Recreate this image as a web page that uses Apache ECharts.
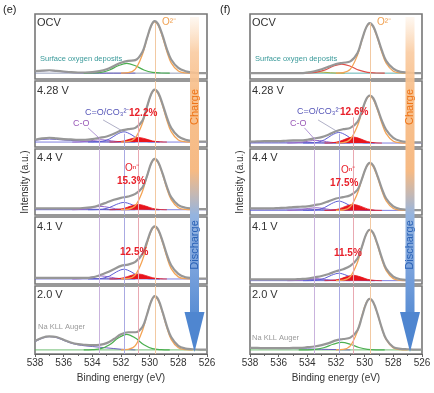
<!DOCTYPE html>
<html><head><meta charset="utf-8">
<script src="https://cdn.jsdelivr.net/npm/echarts/dist/echarts.min.js"></script>
<style>html,body{margin:0;padding:0;background:#fff}#c{width:434px;height:393px}</style>
</head><body><div id="c"></div>
<script>
// ---------- energies (eV) ----------
const E  = [538, 537.5, 537, 536.5, 536, 535.5, 535, 534.5, 534, 533.5, 533, 532.5, 532, 531.5, 531, 530.5, 530.2, 529.9, 529.65, 529.4, 529.1, 528.8, 528.5, 528, 527.5, 527, 526.5, 526];
const EL = [538, 537.5, 537, 536.5, 536, 535.5, 535, 534.5, 534, 533.5, 533, 532.5, 532, 531.5, 531];
const EO = [532, 531.5, 531, 530.5, 530.2, 529.9, 529.65, 529.4, 529.1, 528.8, 528.5, 528, 527.5, 527];
const ER = [532.8, 532.3, 531.8, 531.3, 530.8, 530.3, 529.8, 529.3, 528.8];
const EB = [534.3, 533.8, 533.3, 532.8, 532.3, 531.8, 531.3, 530.8, 530.3, 529.8, 529.3];
const EP = [535.4, 534.9, 534.4, 533.9, 533.4, 532.9, 532.4, 531.9, 531.4];
const EG = [534.6, 534, 533.4, 532.8, 532.2, 531.6, 531, 530.4, 529.8, 529.2, 528.6];
const BX = [538, 526];
const refE = [533.5, 531.8, 530.8, 529.6];
const xTicks = [538, 536, 534, 532, 530, 528, 526];

// ---------- panel (e) ----------
const e_base = [0.09, 0.075, 0.08, 0.075, 0.06];
const e_ocv_env = [0.12, 0.13, 0.135, 0.125, 0.115, 0.105, 0.1, 0.1, 0.105, 0.12, 0.15, 0.2, 0.25, 0.28, 0.29, 0.42, 0.62, 0.82, 0.89, 0.84, 0.67, 0.46, 0.3, 0.17, 0.12, 0.1, 0.09, 0.09];
const e_428_env = [0.11, 0.13, 0.14, 0.13, 0.12, 0.115, 0.11, 0.11, 0.12, 0.14, 0.16, 0.2, 0.25, 0.27, 0.29, 0.4, 0.6, 0.8, 0.87, 0.82, 0.65, 0.45, 0.29, 0.16, 0.11, 0.09, 0.08, 0.08];
const e_44_env  = [0.1, 0.1, 0.1, 0.1, 0.1, 0.1, 0.1, 0.11, 0.12, 0.15, 0.19, 0.23, 0.26, 0.28, 0.32, 0.42, 0.58, 0.78, 0.85, 0.8, 0.63, 0.43, 0.27, 0.15, 0.11, 0.1, 0.09, 0.09];
const e_41_env  = [0.09, 0.09, 0.09, 0.09, 0.09, 0.09, 0.09, 0.09, 0.1, 0.13, 0.17, 0.22, 0.27, 0.29, 0.33, 0.45, 0.62, 0.8, 0.86, 0.81, 0.64, 0.44, 0.28, 0.15, 0.1, 0.09, 0.08, 0.08];
const e_20_env  = [0.19, 0.24, 0.26, 0.25, 0.21, 0.17, 0.145, 0.135, 0.13, 0.135, 0.16, 0.22, 0.29, 0.32, 0.32, 0.4, 0.57, 0.77, 0.85, 0.8, 0.62, 0.41, 0.25, 0.12, 0.08, 0.07, 0.065, 0.065];

const e_ocv_left = [0.115, 0.125, 0.13, 0.12, 0.11, 0.1, 0.095, 0.092, 0.09, 0.09, 0.09, 0.09, 0.09, 0.09, 0.09];
const e_428_left = [0.1, 0.115, 0.12, 0.115, 0.105, 0.1, 0.095, 0.09, 0.085, 0.08, 0.078, 0.076, 0.075, 0.075, 0.075];
const e_44_left  = [0.09, 0.09, 0.09, 0.09, 0.09, 0.09, 0.09, 0.09, 0.088, 0.085, 0.082, 0.08, 0.08, 0.08, 0.08];
const e_41_left  = [0.085, 0.085, 0.085, 0.085, 0.085, 0.085, 0.085, 0.085, 0.083, 0.08, 0.078, 0.076, 0.075, 0.075, 0.075];
const e_20_aug   = [0.18, 0.23, 0.255, 0.24, 0.2, 0.16, 0.135, 0.12, 0.11, 0.1, 0.09, 0.08, 0.07, 0.065, 0.06];

const e_ocv_O2 = [0.09, 0.097, 0.153, 0.38, 0.61, 0.81, 0.88, 0.825, 0.643, 0.422, 0.248, 0.122, 0.094, 0.09];
const e_428_O2 = [0.075, 0.082, 0.138, 0.363, 0.591, 0.795, 0.86, 0.805, 0.625, 0.405, 0.232, 0.106, 0.079, 0.075];
const e_44_O2  = [0.08, 0.087, 0.141, 0.359, 0.579, 0.777, 0.84, 0.787, 0.612, 0.399, 0.232, 0.11, 0.084, 0.08];
const e_41_O2  = [0.075, 0.082, 0.137, 0.359, 0.584, 0.786, 0.85, 0.796, 0.618, 0.401, 0.23, 0.106, 0.079, 0.075];
const e_20_O2  = [0.06, 0.067, 0.122, 0.346, 0.572, 0.775, 0.84, 0.785, 0.606, 0.388, 0.216, 0.091, 0.064, 0.06];

const e_428_On = [0.075, 0.078, 0.092, 0.124, 0.145, 0.124, 0.092, 0.078, 0.075];
const e_44_On  = [0.08, 0.084, 0.1, 0.137, 0.16, 0.137, 0.1, 0.084, 0.08];
const e_41_On  = [0.075, 0.078, 0.094, 0.128, 0.15, 0.128, 0.094, 0.078, 0.075];

const e_428_CO3 = [0.075, 0.076, 0.086, 0.122, 0.19, 0.23, 0.19, 0.122, 0.086, 0.076, 0.075];
const e_44_CO3  = [0.08, 0.081, 0.088, 0.114, 0.162, 0.19, 0.162, 0.114, 0.088, 0.081, 0.08];
const e_41_CO3  = [0.075, 0.076, 0.085, 0.119, 0.183, 0.22, 0.183, 0.119, 0.085, 0.076, 0.075];

const e_428_CO = [0.075, 0.077, 0.086, 0.101, 0.11, 0.101, 0.086, 0.077, 0.075];
const e_44_CO  = [0.08, 0.084, 0.095, 0.117, 0.13, 0.117, 0.095, 0.084, 0.08];
const e_41_CO  = [0.075, 0.078, 0.089, 0.108, 0.12, 0.108, 0.089, 0.078, 0.075];

const e_ocv_dep = [0.09, 0.092, 0.102, 0.139, 0.203, 0.24, 0.203, 0.139, 0.102, 0.092, 0.09];
const e_20_dep  = [0.06, 0.063, 0.078, 0.135, 0.234, 0.29, 0.234, 0.135, 0.078, 0.063, 0.06];

// ---------- panel (f) ----------
const f_base = [0.09, 0.06, 0.07, 0.05, 0.06];
const f_ocv_env = [0.09, 0.09, 0.09, 0.09, 0.09, 0.09, 0.09, 0.09, 0.1, 0.12, 0.15, 0.19, 0.23, 0.25, 0.27, 0.4, 0.6, 0.79, 0.86, 0.81, 0.64, 0.44, 0.28, 0.16, 0.11, 0.1, 0.09, 0.09];
const f_428_env = [0.08, 0.085, 0.09, 0.09, 0.09, 0.095, 0.1, 0.1, 0.11, 0.13, 0.15, 0.19, 0.24, 0.27, 0.29, 0.38, 0.54, 0.72, 0.78, 0.74, 0.58, 0.4, 0.26, 0.14, 0.09, 0.075, 0.07, 0.07];
const f_44_env  = [0.1, 0.1, 0.1, 0.1, 0.105, 0.11, 0.12, 0.125, 0.13, 0.15, 0.17, 0.21, 0.25, 0.27, 0.3, 0.38, 0.54, 0.72, 0.79, 0.75, 0.59, 0.4, 0.25, 0.13, 0.09, 0.08, 0.075, 0.075];
const f_41_env  = [0.07, 0.07, 0.07, 0.07, 0.07, 0.07, 0.07, 0.075, 0.08, 0.1, 0.12, 0.15, 0.19, 0.22, 0.27, 0.38, 0.55, 0.74, 0.81, 0.76, 0.59, 0.39, 0.23, 0.11, 0.07, 0.06, 0.055, 0.055];
const f_20_env  = [0.09, 0.09, 0.085, 0.085, 0.085, 0.085, 0.09, 0.09, 0.1, 0.11, 0.13, 0.16, 0.2, 0.22, 0.24, 0.35, 0.54, 0.74, 0.81, 0.76, 0.59, 0.38, 0.22, 0.1, 0.075, 0.07, 0.065, 0.065];

const f_428_left = [0.07, 0.072, 0.075, 0.075, 0.075, 0.075, 0.075, 0.073, 0.07, 0.066, 0.063, 0.061, 0.06, 0.06, 0.06];
const f_44_left  = [0.09, 0.09, 0.09, 0.09, 0.09, 0.09, 0.09, 0.09, 0.088, 0.085, 0.08, 0.075, 0.072, 0.07, 0.07];
const f_41_left  = [0.065, 0.065, 0.065, 0.065, 0.065, 0.065, 0.065, 0.065, 0.065, 0.065, 0.062, 0.058, 0.055, 0.052, 0.05];
const f_20_aug   = [0.085, 0.085, 0.085, 0.082, 0.08, 0.08, 0.08, 0.078, 0.075, 0.072, 0.07, 0.067, 0.065, 0.062, 0.06];

const f_ocv_O2 = [0.09, 0.097, 0.151, 0.369, 0.589, 0.787, 0.85, 0.797, 0.622, 0.409, 0.242, 0.12, 0.094, 0.09];
const f_428_O2 = [0.06, 0.066, 0.117, 0.321, 0.526, 0.711, 0.77, 0.72, 0.557, 0.358, 0.202, 0.088, 0.064, 0.06];
const f_44_O2  = [0.07, 0.076, 0.127, 0.331, 0.536, 0.721, 0.78, 0.73, 0.567, 0.368, 0.212, 0.098, 0.074, 0.07];
const f_41_O2  = [0.05, 0.057, 0.11, 0.325, 0.543, 0.738, 0.8, 0.748, 0.575, 0.365, 0.2, 0.08, 0.054, 0.05];
const f_20_O2  = [0.06, 0.067, 0.12, 0.335, 0.553, 0.748, 0.81, 0.758, 0.585, 0.375, 0.21, 0.09, 0.064, 0.06];

const f_428_On = [0.06, 0.064, 0.082, 0.124, 0.15, 0.124, 0.082, 0.064, 0.06];
const f_44_On  = [0.07, 0.074, 0.092, 0.134, 0.16, 0.134, 0.092, 0.074, 0.07];
const f_41_On  = [0.05, 0.054, 0.07, 0.107, 0.13, 0.107, 0.07, 0.054, 0.05];

const f_428_CO3 = [0.06, 0.061, 0.071, 0.109, 0.179, 0.22, 0.179, 0.109, 0.071, 0.061, 0.06];
const f_44_CO3  = [0.07, 0.071, 0.08, 0.113, 0.174, 0.21, 0.174, 0.113, 0.08, 0.071, 0.07];
const f_41_CO3  = [0.05, 0.051, 0.058, 0.084, 0.132, 0.16, 0.132, 0.084, 0.058, 0.051, 0.05];

const f_428_CO = [0.06, 0.063, 0.072, 0.09, 0.1, 0.09, 0.072, 0.063, 0.06];
const f_44_CO  = [0.07, 0.073, 0.082, 0.1, 0.11, 0.1, 0.082, 0.073, 0.07];
const f_41_CO  = [0.05, 0.052, 0.059, 0.072, 0.08, 0.072, 0.059, 0.052, 0.05];

const f_ocv_dep   = [0.09, 0.092, 0.101, 0.136, 0.196, 0.23, 0.196, 0.136, 0.101, 0.092, 0.09];
const f_ocv_minor = [0.09, 0.091, 0.096, 0.105, 0.11, 0.105, 0.096, 0.091, 0.09];
const f_20_dep    = [0.06, 0.061, 0.069, 0.096, 0.143, 0.17, 0.143, 0.096, 0.069, 0.061, 0.06];

// connector lines in the 4.28 V panels: [x1, y1, x2, y2]
const e_conn = [[533.25, 0.41, 531.8, 0.23], [534.3, 0.29, 533.5, 0.13]];
const f_conn = [[533.25, 0.41, 531.8, 0.22], [534.2, 0.29, 533.5, 0.12]];

// ---------- build ----------
const FONT = '"Liberation Sans", Arial, sans-serif';
const C = {grey:'#979797', orange:'#f4a455', red:'#e8141c', blue:'#5c5cd6', purple:'#9a68c8', green:'#4caf50', left:'#6a60c0', teal:'#3aa0a0'};
const REFC = ['#c9b3dd', '#aaaae2', '#e9a9b2', '#f2c9a2'];
const tops = [14, 81, 149, 217, 286];
const heights = [65, 66, 66, 67, 68];
const zip = (xs, ys) => xs.map((x, i) => [x, ys[i]]);

const sets = [
  {left: 35, base: e_base, conn: e_conn, panels: [
    {env:e_ocv_env, left:e_ocv_left, O2:e_ocv_O2, dep:e_ocv_dep, depC:C.green, baseC:'#7a86a8'},
    {env:e_428_env, left:e_428_left, O2:e_428_O2, On:e_428_On, CO3:e_428_CO3, CO:e_428_CO, baseC:C.blue},
    {env:e_44_env, left:e_44_left, O2:e_44_O2, On:e_44_On, CO3:e_44_CO3, CO:e_44_CO, baseC:C.blue},
    {env:e_41_env, left:e_41_left, O2:e_41_O2, On:e_41_On, CO3:e_41_CO3, CO:e_41_CO, baseC:C.blue},
    {env:e_20_env, left:e_20_aug, O2:e_20_O2, dep:e_20_dep, depC:C.green, baseC:C.green}
  ]},
  {left: 250, base: f_base, conn: f_conn, panels: [
    {env:f_ocv_env, O2:f_ocv_O2, dep:f_ocv_dep, depC:'#e0504a', minor:f_ocv_minor, baseC:C.teal},
    {env:f_428_env, left:f_428_left, O2:f_428_O2, On:f_428_On, CO3:f_428_CO3, CO:f_428_CO, baseC:C.blue},
    {env:f_44_env, left:f_44_left, O2:f_44_O2, On:f_44_On, CO3:f_44_CO3, CO:f_44_CO, baseC:C.blue},
    {env:f_41_env, left:f_41_left, O2:f_41_O2, On:f_41_On, CO3:f_41_CO3, CO:f_41_CO, baseC:C.blue},
    {env:f_20_env, left:f_20_aug, O2:f_20_O2, dep:f_20_dep, depC:C.green, baseC:C.green}
  ]}
];

const grid = [], xAxis = [], yAxis = [], series = [];
function ln(gi, xs, ys, color, width, extra) {
  return Object.assign({type:'line', xAxisIndex:gi, yAxisIndex:gi, data:zip(xs, ys), smooth:0.35,
    symbol:'none', silent:true, animation:false, lineStyle:{color:color, width:width}}, extra || {});
}
function refSeg(x, y0, y1, color, w) {
  return [{coord:[x, y0], lineStyle:{color:color, width:w || 1, type:'solid'}}, {coord:[x, y1]}];
}

sets.forEach((s, si) => {
  s.panels.forEach((p, pi) => {
    const gi = grid.length;
    const bottom = pi === 4;
    grid.push({left:s.left, top:tops[pi], width:172, height:heights[pi], show:true,
      borderColor:'#777', borderWidth:1.6, backgroundColor:'rgba(0,0,0,0)'});
    xAxis.push({gridIndex:gi, type:'value', min:526, max:538, interval:2, inverse:true,
      axisLine:{show:bottom, onZero:false, lineStyle:{color:'#666', width:1}},
      axisTick:{show:bottom, length:3, lineStyle:{color:'#666'}},
      minorTick:{show:bottom, splitNumber:2, length:2, lineStyle:{color:'#666'}},
      axisLabel:{show:bottom, fontSize:10, color:'#333', margin:4, fontFamily:FONT,
        formatter: v => xTicks.includes(v) ? String(v) : ''},
      splitLine:{show:false},
      name: bottom ? 'Binding energy (eV)' : '', nameLocation:'middle', nameGap:19,
      nameTextStyle:{fontSize:10, color:'#333', fontFamily:FONT}});
    yAxis.push({gridIndex:gi, type:'value', min:0, max:1,
      axisLine:{show:false}, axisTick:{show:false}, axisLabel:{show:false}, splitLine:{show:false},
      name: pi === 2 ? 'Intensity (a.u.)' : '', nameLocation:'middle', nameGap:5, nameRotate:90,
      nameTextStyle:{fontSize:10, color:'#333', fontFamily:FONT}});

    const b = s.base[pi];
    let ml = [];
    if (pi === 0) ml.push(refSeg(refE[3], 0, 0.86, REFC[3]));
    else if (pi === 1) {
      ml.push(refSeg(refE[0], 0, 0.14, REFC[0]));
      ml.push(refSeg(refE[1], 0, 0.2, REFC[1]));
      ml.push(refSeg(refE[2], 0, 0.45, REFC[2]));
      ml.push(refSeg(refE[3], 0, 1, REFC[3]));
      ml.push([{coord:[s.conn[0][0], s.conn[0][1]], lineStyle:{color:'#9a9ab8', width:0.8, type:'solid'}}, {coord:[s.conn[0][2], s.conn[0][3]]}]);
      ml.push([{coord:[s.conn[1][0], s.conn[1][1]], lineStyle:{color:'#a07ccc', width:0.8, type:'solid'}}, {coord:[s.conn[1][2], s.conn[1][3]]}]);
    } else {
      refE.forEach((x, k) => ml.push(refSeg(x, 0, 1, REFC[k])));
    }
    series.push(ln(gi, BX, [b, b], p.baseC, 0.8, {smooth:false, z:1,
      markLine:{silent:true, symbol:'none', label:{show:false}, animation:false, data:ml}}));
    if (p.left) series.push(ln(gi, EL, p.left, C.left, 1, {z:2}));
    if (p.minor) series.push(ln(gi, EP, p.minor, '#a8b040', 1, {z:2}));
    if (p.dep) series.push(ln(gi, EG, p.dep, p.depC, 1.2, {z:2}));
    if (p.CO) series.push(ln(gi, EP, p.CO, C.purple, 1, {z:2}));
    if (p.CO3) series.push(ln(gi, EB, p.CO3, C.blue, 1, {z:2}));
    if (p.On) series.push(ln(gi, ER, p.On, C.red, 0.8, {z:3, areaStyle:{color:C.red, opacity:1, origin:b}}));
    series.push(ln(gi, EO, p.O2, C.orange, 1.3, {z:3}));
    series.push(ln(gi, E, p.env, C.grey, 2.2, {z:4}));
  });
});

// ---------- annotations ----------
const STY = {
  tag:{fontSize:11, fill:'#222'}, panel:{fontSize:11, fill:'#333'},
  teal:{fontSize:7.5, fill:'#3a9a9a'}, orange:{fontSize:10, fill:'#f0a050'},
  blue:{fontSize:9, fill:'#5656b8'}, pct:{fontSize:10, fill:'#e8202a', fontWeight:'bold'},
  purple:{fontSize:9, fill:'#9a5ab8'}, red:{fontSize:10, fill:'#e8202a'}, grey:{fontSize:7.5, fill:'#9a9a9a'}
};
const labelsE = [
  ['(e)', 3, 10, 'tag'], ['OCV', 37, 23, 'panel'], ['4.28 V', 37, 91, 'panel'], ['4.4 V', 37, 158, 'panel'],
  ['4.1 V', 37, 227, 'panel'], ['2.0 V', 37, 295, 'panel'], ['Surface oxygen deposits', 40, 59, 'teal'],
  ['O²⁻', 162, 22, 'orange'], ['C=O/CO₃²⁻', 85, 113, 'blue'], ['12.2%', 129, 113, 'pct'], ['C-O', 73, 124, 'purple'],
  ['Oⁿ⁻', 125, 168, 'red'], ['15.3%', 117, 181, 'pct'], ['12.5%', 120, 252, 'pct'], ['Na KLL Auger', 38, 327, 'grey']
];
const labelsF = [
  ['(f)', 220, 10, 'tag'], ['OCV', 252, 23, 'panel'], ['4.28 V', 252, 91, 'panel'], ['4.4 V', 252, 158, 'panel'],
  ['4.1 V', 252, 227, 'panel'], ['2.0 V', 252, 295, 'panel'], ['Surface oxygen deposits', 255, 59, 'teal'],
  ['O²⁻', 377, 22, 'orange'], ['C=O/CO₃²⁻', 297, 112, 'blue'], ['12.6%', 340, 112, 'pct'], ['C-O', 290, 124, 'purple'],
  ['Oⁿ⁻', 341, 170, 'red'], ['17.5%', 330, 183, 'pct'], ['11.5%', 334, 253, 'pct'], ['Na KLL Auger', 252, 338, 'grey']
];
const graphic = [];
labelsE.concat(labelsF).forEach(([t, x, y, k]) => {
  graphic.push({type:'text', x:x, y:y, z:50, silent:true,
    style:Object.assign({text:t, fontFamily:FONT, align:'left', verticalAlign:'middle'}, STY[k])});
});
// charge / discharge arrows
[194.5, 410].forEach((cx) => {
  graphic.push({type:'rect', z:20, silent:true, shape:{x:cx - 4.5, y:17, width:9, height:296},
    style:{fill:new echarts.graphic.LinearGradient(0, 0, 0, 1, [
      {offset:0, color:'rgba(250,205,160,0.15)'}, {offset:0.12, color:'rgba(249,196,148,0.8)'},
      {offset:0.25, color:'#f8c290'}, {offset:0.52, color:'#f6ba84'}, {offset:0.6, color:'#c4b8b4'},
      {offset:0.67, color:'#94b4e0'}, {offset:0.85, color:'#7aa2dc'}, {offset:1, color:'#5a8ed4'}])}});
  graphic.push({type:'polygon', z:20, silent:true, shape:{points:[[cx - 10, 312], [cx + 10, 312], [cx, 352]]},
    style:{fill:'#4f86d0'}});
  graphic.push({type:'text', z:21, silent:true, x:cx, y:107, rotation:Math.PI / 2,
    style:{text:'Charge', fontFamily:FONT, fontSize:11, fill:'#ee7418', align:'center', verticalAlign:'middle'}});
  graphic.push({type:'text', z:21, silent:true, x:cx, y:245, rotation:Math.PI / 2,
    style:{text:'Discharge', fontFamily:FONT, fontSize:11, fill:'#2a62b6', align:'center', verticalAlign:'middle'}});
});

const chart = echarts.init(document.getElementById('c'), null, {renderer:'canvas'});
chart.setOption({animation:false, backgroundColor:'#fff', textStyle:{fontFamily:FONT},
  grid, xAxis, yAxis, series, graphic});
</script>
</body></html>
